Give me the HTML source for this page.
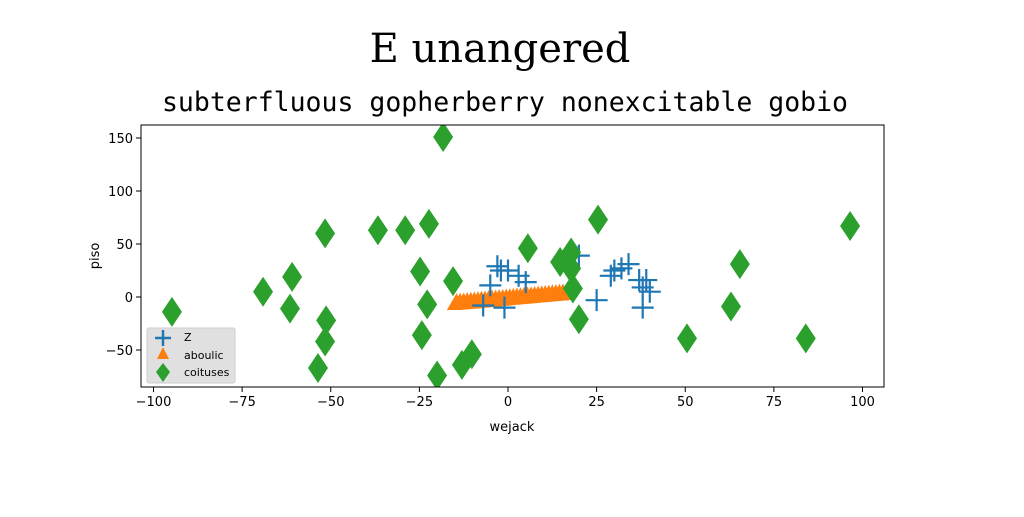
<!DOCTYPE html>
<html><head><meta charset="utf-8"><style>
body{margin:0;background:#fff;width:1024px;height:512px;overflow:hidden}
svg text{font-family:"DejaVu Sans","Liberation Sans",sans-serif}
</style></head><body>
<svg id="c" width="1024" height="512" xmlns="http://www.w3.org/2000/svg">
<rect width="1024" height="512" fill="#fff"/>
<text x="500" y="62" text-anchor="middle" style="font-family:'DejaVu Serif','Liberation Serif',serif;font-size:40px">E unangered</text>
<text x="505" y="111" text-anchor="middle" style="font-family:'DejaVu Sans Mono','Liberation Mono',monospace;font-size:26.5px">subterfluous gopherberry nonexcitable gobio</text>
<g id="plot"></g>
</svg>
<script>
const xTicks=[-100,-75,-50,-25,0,25,50,75,100];
const yTicks=[-50,0,50,100,150];
const zX=[-5,-3,-2,0,3,5,20,25,29,30,32,34,37,38,39,40,38,-1,-7];
const zY=[11,29,25,25,20,14,39,-3,20,25,27,31,16,9,16,5,-10,-10,-8];
const aX=[-15,-14,-13,-12,-11,-10,-9,-8,-7,-6,-5,-4,-3,-2,-1,0,1,2,3,4,5,6,7,8,9,10,11,12,13,14,15,16];
const aY=[-4.7,-4.4,-4.1,-3.8,-3.5,-3.2,-2.9,-2.6,-2.3,-2.0,-1.7,-1.4,-1.1,-0.8,-0.5,-0.1,0.2,0.5,0.8,1.1,1.4,1.7,2.0,2.3,2.6,2.9,3.2,3.5,3.8,4.1,4.4,4.7];
const gX=[-18.3,-94.8,-69.1,-60.9,-61.5,-51.6,-51.3,-51.6,-53.6,-36.7,-29,-22.3,-24.8,-22.8,-24.3,-20,-15.5,-13,-10.2,5.6,14.7,17.8,17.8,18.3,20,25.4,50.5,62.9,65.4,84,96.5];
const gY=[151,-14,5,19,-11,60,-22,-42,-67,63,63,69,24,-7,-36,-74,15,-64,-54,46,33,42,27,8,-21,73,-39,-9,31,-39,67];
const L=141,R=884,T=125,B=387;
const sx=v=>508+v*3.545, sy=v=>297-v*1.06;
const NS='http://www.w3.org/2000/svg';
const g=document.getElementById('plot');
function mk(t,a,p){const e=document.createElementNS(NS,t);for(const k in a)e.setAttribute(k,a[k]);(p||g).appendChild(e);return e;}
const clip=mk('clipPath',{id:'cp'});mk('rect',{x:L,y:T,width:R-L,height:B-T},clip);
const marks=mk('g',{'clip-path':'url(#cp)'});


aX.forEach((x,i)=>{const cx=sx(x),cy=sy(aY[i]);
 const p=mk('polygon',{points:`${cx+2},${cy-9} ${cx-8},${cy+8} ${cx+8},${cy+8}`,fill:'#ff7f0e'},marks);
 
 });
zX.forEach((x,i)=>{const cx=sx(x),cy=sy(zY[i]);
 const p=mk('path',{d:`M${cx-11},${cy}H${cx+11}M${cx},${cy-11}V${cy+11}`,stroke:'#1f77b4','stroke-width':2.2,fill:'none'},marks);
 
 });
gX.forEach((x,i)=>{const cx=sx(x),cy=sy(gY[i]);
 const p=mk('polygon',{points:`${cx},${cy-15} ${cx+10},${cy} ${cx},${cy+15} ${cx-10},${cy}`,fill:'#2ca02c'},marks);
 
 });
const fr=mk('rect',{x:L,y:T,width:R-L,height:B-T,fill:'none',stroke:'#000','stroke-width':1});


xTicks.forEach(v=>{const x=sx(v);mk('line',{x1:x,x2:x,y1:B,y2:B+5,stroke:'#000'});
 const t=mk('text',{x:x,y:B+19,'text-anchor':'middle','font-size':13});t.textContent=(v<0?'\u2212':'')+Math.abs(v);
 
 });
yTicks.forEach(v=>{const y=sy(v);mk('line',{x1:L-5,x2:L,y1:y,y2:y,stroke:'#000'});
 const t=mk('text',{x:L-8,y:y+5,'text-anchor':'end','font-size':13});t.textContent=(v<0?'\u2212':'')+Math.abs(v);
 
 });
const xt=mk('text',{x:512,y:431,'text-anchor':'middle','font-size':13});xt.textContent='wejack';


const yt=mk('text',{x:0,y:0,'text-anchor':'middle','font-size':13,transform:`translate(99,256) rotate(-90)`});yt.textContent='piso';


const lg=mk('g',{});


mk('rect',{x:147,y:328,width:88,height:55,fill:'#e0e0e0',stroke:'#ccc',rx:2},lg);
mk('path',{d:'M155,338H171M163,330V346',stroke:'#1f77b4','stroke-width':2.5},lg);
mk('polygon',{points:'163,347 157,359 169,359',fill:'#ff7f0e'},lg);
mk('polygon',{points:'163,363 170,372 163,382 156,372',fill:'#2ca02c'},lg);
[['Z',341],['aboulic',359],['coituses',376]].forEach(([s,y])=>{const t=mk('text',{x:184,y:y,'font-size':11},lg);t.textContent=s;
 
 });
</script>
</body></html>
